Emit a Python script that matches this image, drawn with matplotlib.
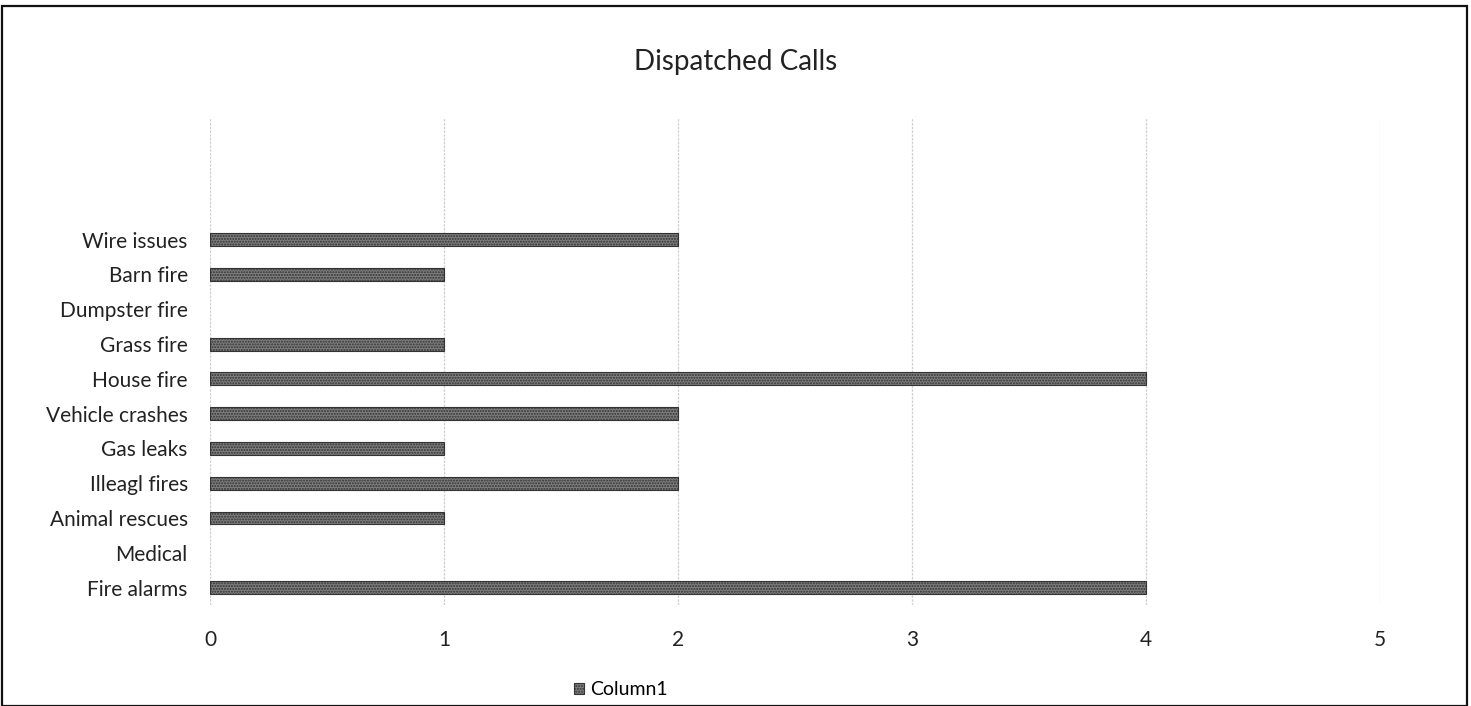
import matplotlib.pyplot as plt
from matplotlib.patches import Rectangle

categories = ["Fire alarms", "Medical", "Animal rescues", "Illeagl fires", "Gas leaks",
              "Vehicle crashes", "House fire", "Grass fire", "Dumpster fire",
              "Barn fire", "Wire issues"]
counts = [4, 0, 1, 2, 1, 2, 4, 1, 0, 1, 2]
x_ticks = [0, 1, 2, 3, 4, 5]

plt.rcParams["font.family"] = ["Lato", "DejaVu Sans"]

fig = plt.figure(figsize=(14.71, 7.06), dpi=100)
ax = fig.add_axes([0.1428, 0.143, 0.7954, 0.690])

pos = list(range(len(categories)))
bars = ax.barh(pos, counts, height=0.37, color="#7e7e7e", edgecolor="#333333",
               linewidth=0.8, hatch="......", label="Column1")
# empty categories get no outline
for b, c in zip(bars, counts):
    if c == 0:
        b.set_linewidth(0)

ax.set_xlim(0, 5)
ax.set_ylim(-0.5, len(categories) + 2.5)
ax.set_xticks(x_ticks)
ax.set_xticklabels([str(t) for t in x_ticks])
ax.set_yticks(pos)
ax.set_yticklabels(categories)
ax.tick_params(axis="both", length=0, labelsize=15, colors="#222222")
ax.tick_params(axis="x", pad=18)
ax.tick_params(axis="y", pad=16)
ax.grid(axis="x", color="#cfcfcf", linewidth=0.9, linestyle=(0, (2, 1)))
ax.set_axisbelow(True)
for s in ax.spines.values():
    s.set_visible(False)

fig.text(0.5, 0.912, "Dispatched Calls", ha="center", va="center",
         fontsize=20, color="#222222")

fig.legend(handles=[bars], labels=["Column1"], loc="center",
           bbox_to_anchor=(0.422, 0.023), frameon=False, fontsize=14,
           handlelength=0.5, handleheight=0.5, handletextpad=0.3)

# chart frame
fig.patches.append(Rectangle((0.0015, 0.0), 0.996, 0.992, transform=fig.transFigure,
                             fill=False, edgecolor="#111111", linewidth=1.6))

fig.savefig("out.png", dpi=100)
